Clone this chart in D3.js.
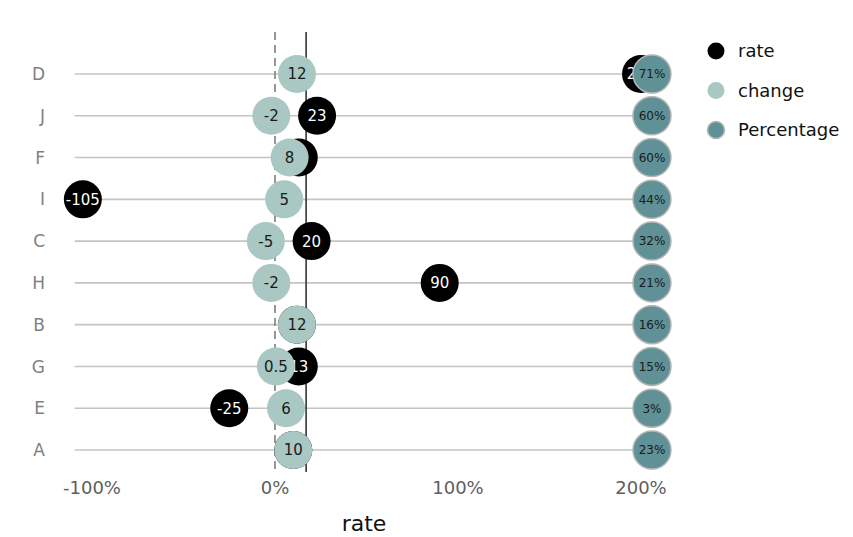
<!DOCTYPE html>
<html>
<head>
<meta charset="utf-8">
<script src="https://cdn.jsdelivr.net/npm/d3@7"></script>
<style>
  body { margin: 0; background: #fff; }
  svg { font-family: "DejaVu Sans", Verdana, sans-serif; }
</style>
</head>
<body>
<div id="chart"></div>
<script>
// data (top row first)
var categories = ["D", "J", "F", "I", "C", "H", "B", "G", "E", "A"];
var rate       = [200, 23, 13, -105, 20, 90, 12, 13, -25, 10];
var change     = [12, -2, 8, 5, -5, -2, 12, 0.5, 6, 10];
var percentage = ["71%", "60%", "60%", "44%", "32%", "21%", "16%", "15%", "3%", "23%"];
var xTicks     = [-1, 0, 1, 2];
var refLine    = 0.17;   // solid reference line
var pctPos     = 2.06;   // where the percentage bubbles sit

var width = 853, height = 537;
var svg = d3.select("#chart").append("svg")
    .attr("width", width)
    .attr("height", height);

var x = d3.scaleLinear().domain([-1.1, 2.1]).range([73.7, 659.3]);
var y = d3.scalePoint().domain(categories).range([74, 450]);

var rows = categories.map(function(c, i) {
  return { cat: c, rate: rate[i], change: change[i], pct: percentage[i] };
});

// horizontal guide lines
svg.append("g")
  .selectAll("line")
  .data(rows)
  .enter()
  .append("line")
    .attr("x1", x(-1.1) + 1)
    .attr("x2", x(pctPos))
    .attr("y1", function(d) { return y(d.cat); })
    .attr("y2", function(d) { return y(d.cat); })
    .style("stroke", "#c4c4c4")
    .style("stroke-width", 1.6);

// vertical lines
svg.append("line")
  .attr("x1", x(0)).attr("x2", x(0))
  .attr("y1", 32).attr("y2", 472)
  .style("stroke", "#8c8c8c")
  .style("stroke-width", 1.8)
  .style("stroke-dasharray", "8,5");

svg.append("line")
  .attr("x1", x(refLine)).attr("x2", x(refLine))
  .attr("y1", 32).attr("y2", 472)
  .style("stroke", "#333")
  .style("stroke-width", 1.6);

var r = 19;

function bubbles(cls, cx, fill, stroke, textFill, fontSize, label) {
  var g = svg.append("g").attr("class", cls)
    .selectAll("g")
    .data(rows)
    .enter()
    .append("g")
      .attr("transform", function(d) { return "translate(" + cx(d) + "," + y(d.cat) + ")"; });
  g.append("circle")
    .attr("r", r)
    .style("fill", fill)
    .style("stroke", stroke)
    .style("stroke-width", stroke == "none" ? 0 : 1.5);
  g.append("text")
    .attr("text-anchor", "middle")
    .attr("dy", "0.36em")
    .style("font-size", fontSize + "px")
    .style("fill", textFill)
    .text(label);
}

bubbles("rate", function(d) { return x(d.rate / 100); }, "#000000", "none", "#ffffff", 15,
        function(d) { return d.rate; });
bubbles("change", function(d) { return x(d.change / 100); }, "#a9c7c3", "none", "#1a1a1a", 15,
        function(d) { return d.change; });
bubbles("pct", function(d) { return x(pctPos); }, "#5f9197", "#b5b5b5", "#1a1a1a", 12,
        function(d) { return d.pct; });

// y labels
svg.append("g")
  .selectAll("text")
  .data(categories)
  .enter()
  .append("text")
    .attr("x", 45)
    .attr("y", function(d) { return y(d); })
    .attr("dy", "0.36em")
    .attr("text-anchor", "end")
    .style("font-size", "17px")
    .style("fill", "#808080")
    .text(function(d) { return d; });

// x tick labels (plain hyphen like the reference)
svg.append("g")
  .selectAll("text")
  .data(xTicks)
  .enter()
  .append("text")
    .attr("x", function(d) { return x(d); })
    .attr("y", 494)
    .attr("text-anchor", "middle")
    .style("font-size", "18px")
    .style("fill", "#5e5e5e")
    .text(function(d) { return Math.round(d * 100) + "%"; });

svg.append("text")
  .attr("x", 364)
  .attr("y", 531)
  .attr("text-anchor", "middle")
  .style("font-size", "22px")
  .style("fill", "#111")
  .text("rate");

// legend
var legend = [
  { name: "rate", fill: "#000000", stroke: "none" },
  { name: "change", fill: "#a9c7c3", stroke: "none" },
  { name: "Percentage", fill: "#5f9197", stroke: "#b5b5b5" }
];
var lg = svg.append("g")
  .selectAll("g")
  .data(legend)
  .enter()
  .append("g")
    .attr("transform", function(d, i) { return "translate(716," + (51 + i * 39.5) + ")"; });
lg.append("circle")
  .attr("r", 8.5)
  .style("fill", function(d) { return d.fill; })
  .style("stroke", function(d) { return d.stroke; })
  .style("stroke-width", 1.5);
lg.append("text")
  .attr("x", 22)
  .attr("dy", "0.36em")
  .style("font-size", "18px")
  .style("fill", "#111")
  .text(function(d) { return d.name; });
</script>
</body>
</html>
